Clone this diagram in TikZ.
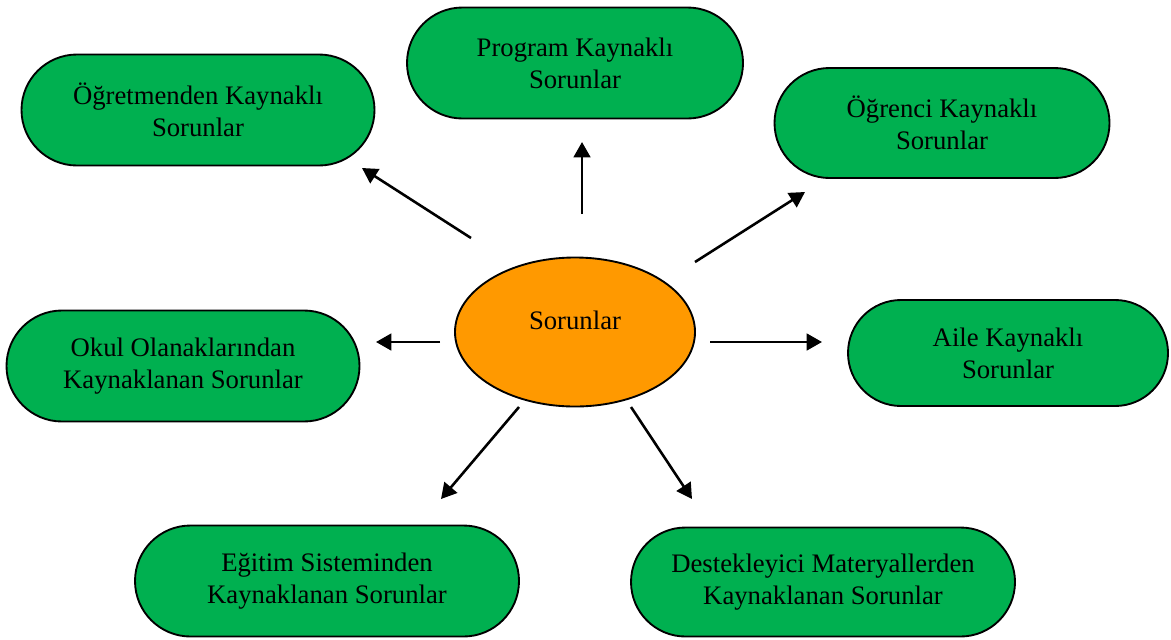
\documentclass[tikz,border=0pt]{standalone}
\usepackage{fontspec}
\setmainfont{Liberation Serif}
\usetikzlibrary{arrows.meta, shapes.misc, shapes.geometric}
\definecolor{kutuyesil}{HTML}{00B050}
\definecolor{turuncu}{HTML}{FF9900}

\begin{document}
\begin{tikzpicture}[
x=0.015cm, y=-0.015cm,
box/.style={draw,
rounded rectangle,
fill=kutuyesil,
line width=0.8pt,
inner sep=0pt,
minimum height=111*0.015cm,
align=center,
font=\fontsize{11.4}{13.7}\selectfont},
merkez/.style={draw,
ellipse,
fill=turuncu,
line width=0.8pt,
minimum width=240*0.015cm,
minimum height=149*0.015cm,
font=\fontsize{11.4}{13.7}\selectfont},
arrow/.style={-{Triangle[length=0.23cm, width=0.25cm]}, line width=1.1pt}
]
\useasboundingbox (0,0) rectangle (1171,639);

\node[merkez] (soru) at (575,332) {\raisebox{0.18cm}[\height][\depth]{Sorunlar}};

\node[box, minimum width=336*0.015cm] (program) at (575,63) {Program Kaynaklı\\Sorunlar};
\node[box, minimum width=353*0.015cm] (ogretmen) at (198,110) {Öğretmenden Kaynaklı\\Sorunlar};
\node[box, minimum width=335*0.015cm, minimum height=110*0.015cm] (ogrenci) at (942,123) {Öğrenci Kaynaklı\\Sorunlar};
\node[box, minimum width=353*0.015cm] (okul) at (183,366) {Okul Olanaklarından\\Kaynaklanan Sorunlar};
\node[box, minimum width=320*0.015cm, minimum height=106*0.015cm] (aile) at (1008,353) {Aile Kaynaklı\\Sorunlar};
\node[box, minimum width=384*0.015cm] (egitim) at (327,581) {Eğitim Sisteminden\\Kaynaklanan Sorunlar};
\node[box, minimum width=384*0.015cm, minimum height=109*0.015cm] (destek) at (823,582) {Destekleyici Materyallerden\\Kaynaklanan Sorunlar};

% ok uclari
\coordinate (a1) at (582,214); \coordinate (b1) at (582,142);
\coordinate (a2) at (471,238); \coordinate (b2) at (362,168);
\coordinate (a3) at (695,262); \coordinate (b3) at (805,192);
\coordinate (a4) at (440,342); \coordinate (b4) at (376,342);
\coordinate (a5) at (710,342); \coordinate (b5) at (822,342);
\coordinate (a6) at (519,407); \coordinate (b6) at (441,499);
\coordinate (a7) at (631,407); \coordinate (b7) at (692,499);

\draw[arrow] (a1) -- (b1);
\draw[arrow] (a2) -- (b2);
\draw[arrow] (a3) -- (b3);
\draw[arrow] (a4) -- (b4);
\draw[arrow] (a5) -- (b5);
\draw[arrow] (a6) -- (b6);
\draw[arrow] (a7) -- (b7);

\end{tikzpicture}
\end{document}
